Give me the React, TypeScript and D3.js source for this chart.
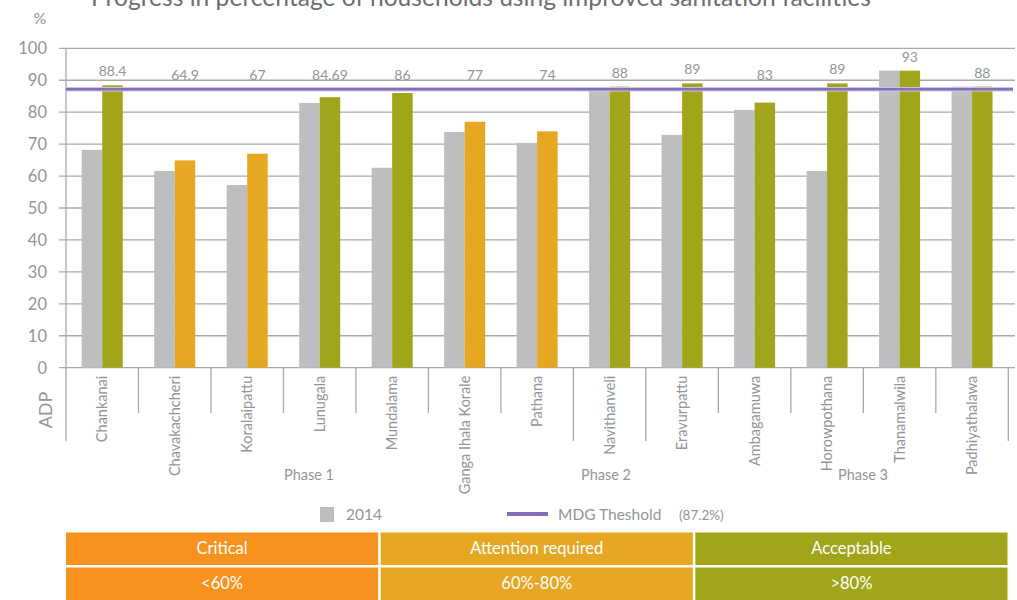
import React from "react";
import * as d3 from "d3";

const categories = [
  "Chankanai", "Chavakachcheri", "Koralaipattu", "Lunugala", "Mundalama",
  "Ganga Ihala Korale", "Pathana", "Navithanveli", "Eravurpattu", "Ambagamuwa",
  "Horowpothana", "Thanamalwila", "Padhiyathalawa",
];
const values2014 = [68.2, 61.6, 57.2, 82.9, 62.6, 73.8, 70.4, 87, 72.9, 80.7, 61.6, 93, 88];
const valuesCurrent = [88.4, 64.9, 67, 84.69, 86, 77, 74, 88, 89, 83, 89, 93, 88];
const currentLabels = ["88.4", "64.9", "67", "84.69", "86", "77", "74", "88", "89", "83", "89", "93", "88"];
const yTicks = [0, 10, 20, 30, 40, 50, 60, 70, 80, 90, 100];
const phases = ["Phase 1", "Phase 2", "Phase 3"];
const phaseBoundaries = [0, 7, 8, 13];
const threshold = 87.2;
const statusNames = ["Critical", "Attention required", "Acceptable"];
const statusRanges = ["<60%", "60%-80%", ">80%"];

const GRAY = "#bcbec0";
const STATUS_COLORS = ["#f7921e", "#e6a723", "#a0a51a"];
const TEXT = "#939598";
const GRID = "#a7a9ac";
const FONT = "Lato, 'Open Sans', sans-serif";

function statusIndex(v: number) {
  if (v < 60) return 0;
  if (v < 80) return 1;
  return 2;
}

export default function App() {
  const W = 1017;
  const H = 600;
  const x = d3.scaleBand<string>().domain(categories).range([66, 1008.3]).padding(0);
  const y = d3.scaleLinear().domain([0, 100]).range([367.7, 48.3]);
  const bw = 20.5;
  const y0 = y(0);
  const yThr = y(threshold);

  const longSep = new Set(phaseBoundaries);
  const sepXs = d3.range(categories.length + 1).map((i) => 66 + i * x.bandwidth());
  const phaseLabelX = [309, 606, 863];

  const tableX = d3.scaleBand<string>().domain(statusNames).range([66, 1010]).paddingInner(0);

  return (
    <svg
      width={W}
      height={H}
      style={{ position: "absolute", left: 0, top: 0, background: "#fff" }}
      fontFamily={FONT}
    >
      {/* title */}
      <text x={481} y={6} textAnchor="middle" fontSize={24.6} fill="#6d6e71">
        Progress in percentage of households using improved sanitation facilities
      </text>
      <text x={40} y={24} textAnchor="middle" fontSize={16} fill={TEXT}>%</text>

      {/* gridlines */}
      {yTicks.map((t) => (
        <g key={t}>
          <line x1={59} x2={1015} y1={y(t)} y2={y(t)} stroke={GRID} strokeWidth={1.3} />
          <text x={47} y={y(t) + 6} textAnchor="end" fontSize={16.5} fill={TEXT}>{t}</text>
        </g>
      ))}
      {/* y axis */}
      <line x1={66} x2={66} y1={y(100)} y2={y0} stroke={GRID} strokeWidth={1.3} />

      {/* category separators */}
      {sepXs.map((sx, i) => (
        <line key={i} x1={sx} x2={sx} y1={y0} y2={longSep.has(i) ? 441 : 413} stroke={GRID} strokeWidth={1.3} />
      ))}

      {/* bars */}
      {categories.map((c, i) => {
        const cx = (x(c) as number) + x.bandwidth() / 2;
        const vc = valuesCurrent[i];
        const v14 = values2014[i];
        const labelY = Math.min(y(vc), yThr) - 14;
        return (
          <g key={c}>
            <rect x={cx - bw} y={y(v14)} width={bw} height={y0 - y(v14)} fill={GRAY} />
            <rect x={cx} y={y(vc)} width={bw} height={y0 - y(vc)} fill={STATUS_COLORS[statusIndex(vc)]} />
            <text x={cx + bw / 2} y={labelY + 5} textAnchor="middle" fontSize={14} fill={TEXT}>
              {currentLabels[i]}
            </text>
            <text
              transform={`translate(${cx + 5},${y0 + 8}) rotate(-90)`}
              textAnchor="end"
              fontSize={14.5}
              fill={TEXT}
            >
              {c}
            </text>
          </g>
        );
      })}

      {/* threshold line */}
      <line x1={66} x2={1013} y1={yThr} y2={yThr} stroke="#cbc3e2" strokeWidth={4.5} />
      <line x1={66} x2={1013} y1={yThr} y2={yThr} stroke="#8170b8" strokeWidth={2.5} />

      {/* ADP axis label */}
      <text transform={`translate(52,410) rotate(-90)`} textAnchor="middle" fontSize={18} fill={TEXT}>ADP</text>

      {/* phase labels */}
      {phases.map((p, i) => (
        <text key={p} x={phaseLabelX[i]} y={480} textAnchor="middle" fontSize={14.5} fill={TEXT}>{p}</text>
      ))}

      {/* legend */}
      <rect x={320} y={507} width={14} height={15} fill={GRAY} />
      <text x={346} y={520} fontSize={15.5} fill={TEXT}>2014</text>
      <line x1={507} x2={548} y1={514} y2={514} stroke="#8170b8" strokeWidth={4} />
      <text x={558} y={520} fontSize={15.5} fill={TEXT}>MDG Theshold</text>
      <text x={679} y={520} fontSize={13.5} fill={TEXT}>(87.2%)</text>

      {/* status table */}
      {statusNames.map((s, i) => {
        const tx = tableX(s) as number;
        const tw = tableX.bandwidth() - 2.5;
        return (
          <g key={s}>
            <rect x={tx} y={532.5} width={tw} height={32.5} fill={STATUS_COLORS[i]} />
            <rect x={tx} y={567.5} width={tw} height={34} fill={STATUS_COLORS[i]} />
            <text x={tx + tw / 2} y={554} textAnchor="middle" fontSize={16.5} fill="#fff">{s}</text>
            <text x={tx + tw / 2} y={589} textAnchor="middle" fontSize={16.5} fill="#fff">{statusRanges[i]}</text>
          </g>
        );
      })}
    </svg>
  );
}
